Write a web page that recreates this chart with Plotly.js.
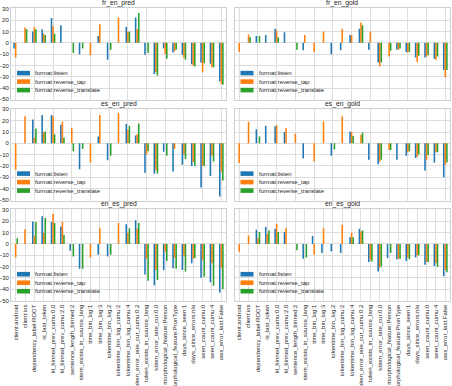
<!DOCTYPE html>
<html>
<head>
<meta charset="utf-8">
<script src="https://cdn.plot.ly/plotly-3.0.1.min.js"></script>
<style>
  html, body { margin: 0; padding: 0; background: #ffffff; }
  #chart { width: 452px; height: 386px; }
</style>
</head>
<body>
<div id="chart"></div>
<script>
// Feature categories shared by every panel
const categories = [
  'client:android', 'client:ios', 'dependency_label:ROOT', 'is_last_token',
  'kl_binned_prev_cumu:0.0', 'kl_binned_prev_cumu:2.0', 'sentence_length_binned:2',
  'stem_exists_in_source_lang', 'time_bin_log:1', 'time_bin_log:3', 'tokentime_bin_log:2',
  'tokentime_bin_log_cumu:2', 'tokentime_bin_log_cumu:4', 'token_error_rate_cur_cumu:0.2',
  'token_exists_in_source_lang', 'token_error_rate_cur:0.0', 'morphological_feature:Person',
  'morphological_feature:PronType', 'days_since_seen:1', 'days_since_errors:n/a',
  'seen_count_cumu:0', 'seen_count_cumu:4', 'was_error_last:False'
];

const seriesNames = ['format:listen', 'format:reverse_tap', 'format:reverse_translate'];
const seriesColors = ['#1f77b4', '#ff7f0e', '#2ca02c'];
const panelTitles = ['fr_en_pred', 'fr_en_gold', 'es_en_pred', 'es_en_gold', 'en_es_pred', 'en_es_gold'];

// fr_en_pred
const frEnPredListen    = [-5, null, 10, 12, 22, 15.5, null, -10, null, 6, -15, null, 14, 22.5, -10.5, -27.5, -5, -8.5, -10.5, -19, -17.5, -18.5, -34];
const frEnPredTap       = [-13, 13.5, 14, 8, 15, null, null, null, -11, 16.5, null, 22.5, 10, 12, null, -26, -10, -7.5, -13, -20, -26, -21.5, -36.5];
const frEnPredTranslate = [null, 12, 12, 7, 8, null, -9, -5, null, null, -6, null, 10, 26.5, -9, -29, -14, -6, -15, -21, -18, -21.5, -37];

// fr_en_gold
const frEnGoldListen    = [null, null, 6, 7, 12.5, 9.5, null, -6.5, null, null, -10, -6.5, 7, 12.5, -6, -17.5, null, -6, -8, -13, -13, -14, -24];
const frEnGoldTap       = [-8, 7.5, null, null, 11, null, null, 7, -8, 10, null, 12.5, 7, 18, 10, -21, -12, -6, -8.5, -17, -12, -15, -30.5];
const frEnGoldTranslate = [null, 5, 6, null, 5, null, -6, null, null, null, null, null, null, 15.5, null, -17.5, -7, -5, -8, -11.5, -11, -12, -24];

// es_en_pred
const esEnPredListen    = [null, null, 21, 25, 25, 16.5, null, -23, null, 6, -15, null, 17, 7, -26, -27, -7.5, -25, -19, -20, -39, -29, -47];
const esEnPredTap       = [-23.5, 24, 5, 10, 24, 19, 13.5, null, -17, 25, null, 27, 12, 8, -10, -24, null, -5, -10, -16.5, -20, -11, -25];
const esEnPredTranslate = [null, null, 13, 10.5, 8, 5, -7, -5, null, null, -11, null, 15.5, 17.5, -7, -27, -11, null, -14, -20, -20, -16, -33];

// es_en_gold
const esEnGoldListen    = [null, null, 12.5, 15.5, 15, 10, null, -13.5, null, null, -11, null, 10.5, null, -14.5, -18.5, null, -14.5, -11, -13, -24, -17, -30];
const esEnGoldTap       = [-17.5, 19, null, null, 16, 13.5, 8.5, null, -16, 19.5, null, 24, 10, 7.5, null, -16, -6, null, -8, -12, -14.5, -8, -19];
const esEnGoldTranslate = [null, null, 6, null, null, null, null, null, null, null, -5.5, null, 6.5, 9.5, null, -14.5, -6, null, -7, -10, -10.5, -8, -17];

// en_es_pred
const enEsPredListen    = [null, null, 20, 24.5, 19.5, 15.5, -6, -22, null, -9.5, -11, null, 17.5, 21, -27, -36.5, -23, -21.5, -23, -17, -30, -34, -43];
const enEsPredTap       = [-12, 13, 7, 10, 26.5, 19.5, null, null, -12, 14, null, 18.5, 10, 13.5, -13, -23, -7, -12.5, -11, -13, -14, -17, -21];
const enEsPredTranslate = [5, null, 19.5, 23, 18.5, 8, -11, -22, null, null, -9.5, null, 14, 18.5, -32.5, -32, -15, -22, -24.5, -12.5, -29, -37, -40];

// en_es_gold
const enEsGoldListen    = [null, null, 12.5, 15, 13.5, 10.5, null, -13, 7, -8, -6.5, -8, 6, 13.5, -16, -24.5, -12.5, -13.5, -15, -12, -18.5, -19.5, -28.5];
const enEsGoldTap       = [-7, 7.5, 5, 9, 18, 14, null, null, -9.5, 14, null, 17, 10, 11, -14, -21, null, -13, -12, -10, -16, -17, -23];
const enEsGoldTranslate = [null, null, 10.5, 12, 10.5, null, -5.5, -12, null, null, null, null, 6, 12, -15.5, -20, -8, -13, -13.5, -10, -16, -20.5, -25];

const panelSeries = [
  [frEnPredListen, frEnPredTap, frEnPredTranslate],
  [frEnGoldListen, frEnGoldTap, frEnGoldTranslate],
  [esEnPredListen, esEnPredTap, esEnPredTranslate],
  [esEnGoldListen, esEnGoldTap, esEnGoldTranslate],
  [enEsPredListen, enEsPredTap, enEsPredTranslate],
  [enEsGoldListen, enEsGoldTap, enEsGoldTranslate]
];

// Page geometry (pixels)
const W = 452, H = 386;
const colX = [[11, 226], [234.5, 450]];
const rowY = [[8.2, 100.1], [108.6, 200.6], [209.3, 301.2]];

const FONT = 'Liberation Sans, Arial, Helvetica, sans-serif';
const TEXT = '#262626';
const GRID = '#dedede';
const EDGE = '#cfcfcf';

const traces = [];
const layout = {
  width: W, height: H,
  margin: {l: 0, r: 0, t: 0, b: 0},
  paper_bgcolor: '#ffffff',
  plot_bgcolor: '#ffffff',
  barmode: 'group',
  bargap: 0.5,
  bargroupgap: 0,
  showlegend: false,
  font: {family: FONT, size: 6, color: TEXT},
  annotations: [],
  shapes: []
};

panelTitles.forEach((title, p) => {
  const n = p + 1;
  const row = Math.floor(p / 2), col = p % 2;
  const xa = 'x' + (n === 1 ? '' : n), ya = 'y' + (n === 1 ? '' : n);
  const xKey = 'xaxis' + (n === 1 ? '' : n), yKey = 'yaxis' + (n === 1 ? '' : n);

  panelSeries[p].forEach((vals, s) => {
    traces.push({
      type: 'bar',
      name: seriesNames[s],
      x: categories,
      y: vals,
      xaxis: xa, yaxis: ya,
      marker: {color: seriesColors[s], line: {width: 0}},
      hoverinfo: 'x+y+name'
    });
  });

  layout[xKey] = {
    domain: [colX[col][0] / W, colX[col][1] / W],
    anchor: ya,
    type: 'category',
    categoryorder: 'array',
    categoryarray: categories,
    range: [-0.5, categories.length - 0.5],
    showgrid: true, gridcolor: GRID, gridwidth: 1,
    showline: true, mirror: true, linecolor: EDGE, linewidth: 1,
    zeroline: false,
    ticks: '',
    showticklabels: row === 2,
    tickangle: -90,
    tickfont: {family: FONT, size: 6, color: TEXT},
    automargin: false
  };
  layout[yKey] = {
    domain: [1 - rowY[row][1] / H, 1 - rowY[row][0] / H],
    anchor: xa,
    range: [-50.7, 30.7],
    tick0: 0, dtick: 10,
    showgrid: true, gridcolor: GRID, gridwidth: 1,
    showline: true, mirror: true, linecolor: EDGE, linewidth: 1,
    zeroline: false,
    ticks: '',
    showticklabels: col === 0,
    tickfont: {family: FONT, size: 6, color: TEXT},
    automargin: false
  };

  // panel title
  layout.annotations.push({
    xref: xa + ' domain', yref: ya + ' domain',
    x: 0.5, y: 1, xanchor: 'center', yanchor: 'bottom', yshift: -1,
    text: title, showarrow: false,
    font: {family: FONT, size: 6.8, color: TEXT}
  });

  // per-panel legend in the lower-left corner
  const rowOffsets = [27, 18.5, 10];
  seriesNames.forEach((name, s) => {
    const cy = rowOffsets[s];
    layout.shapes.push({
      type: 'rect',
      xref: xa + ' domain', yref: ya + ' domain',
      xsizemode: 'pixel', ysizemode: 'pixel',
      xanchor: 0, yanchor: 0,
      x0: 6, x1: 19, y0: cy - 2.3, y1: cy + 2.3,
      fillcolor: seriesColors[s], line: {width: 0}
    });
    layout.annotations.push({
      xref: xa + ' domain', yref: ya + ' domain',
      x: 0, y: 0, xshift: 22, yshift: cy,
      xanchor: 'left', yanchor: 'middle',
      text: name, showarrow: false,
      font: {family: FONT, size: 6, color: TEXT}
    });
  });
});

Plotly.newPlot('chart', traces, layout, {staticPlot: true, displayModeBar: false});
</script>
</body>
</html>
